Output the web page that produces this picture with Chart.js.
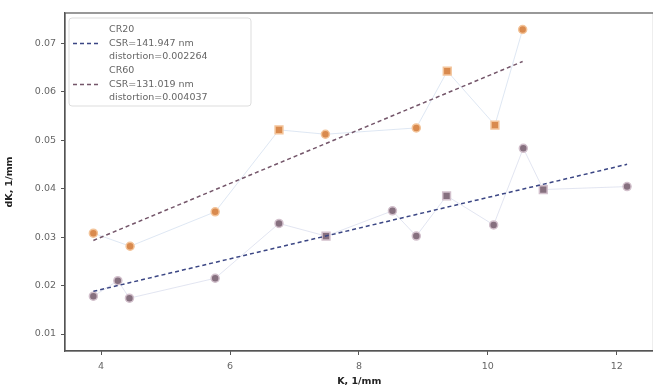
<!DOCTYPE html>
<html>
<head>
<meta charset="utf-8">
<script src="https://cdn.jsdelivr.net/npm/chart.js@4/dist/chart.umd.min.js"></script>
<style>
    html, body { margin: 0; padding: 0; background: #fff; overflow: hidden; }
    #wrap { width: 659px; height: 387px; }
</style>
</head>
<body>
<div id="wrap"><canvas id="distChart"></canvas></div>
<script>
// measured points (orange group)
const orangeK = [3.88, 4.45, 5.77, 6.76, 7.48, 8.89, 9.37, 10.11, 10.54];
const orangeDK = [0.0308, 0.0281, 0.0352, 0.0521, 0.0512, 0.0525, 0.0642, 0.0531, 0.0728];
const orangeStyle = ['circle', 'circle', 'circle', 'rect', 'circle', 'circle', 'rect', 'rect', 'circle'];

// measured points (purple group)
const purpleK = [3.88, 4.26, 4.44, 5.77, 6.76, 7.49, 8.52, 8.89, 9.36, 10.09, 10.55, 10.86, 12.16];
const purpleDK = [0.0178, 0.0210, 0.0174, 0.0215, 0.0328, 0.0302, 0.0354, 0.0302, 0.0385, 0.0325, 0.0483, 0.0398, 0.0404];
const purpleStyle = ['circle', 'circle', 'circle', 'circle', 'circle', 'rect', 'circle', 'circle', 'rect', 'circle', 'circle', 'rect', 'circle'];

// fitted lines (end points)
const fitCR20K = [3.88, 12.16];
const fitCR20DK = [0.0188, 0.0450];
const fitCR60K = [3.88, 10.54];
const fitCR60DK = [0.0293, 0.0662];

const legendLines = [
    ['CR20', 'CSR=141.947 nm', 'distortion=0.002264'],
    ['CR60', 'CSR=131.019 nm', 'distortion=0.004037']
];

const xTicks = [4, 6, 8, 10, 12];
const yTicks = [0.01, 0.02, 0.03, 0.04, 0.05, 0.06, 0.07];

const toXY = (xs, ys) => xs.map((x, i) => ({ x: x, y: ys[i] }));
const sizes = styles => styles.map(s => s === 'rect' ? 5.5 : 4);

const COL_CR20 = '#3b4684';
const COL_CR60 = '#74566a';
const AXIS_COL = '#555555';
const TEXT_COL = '#666666';

// frame around the plot area + text legend in the upper left
const framePlugin = {
    id: 'frame',
    afterDatasetsDraw(chart) {
        const { ctx, chartArea: a } = chart;
        ctx.save();
        ctx.strokeStyle = AXIS_COL;
        ctx.lineWidth = 1.2;
        ctx.strokeRect(a.left, a.top, a.right - a.left, a.bottom - a.top);

        // legend box
        const bx = a.left + 4, by = a.top + 5, bw = 182, bh = 88;
        ctx.fillStyle = 'rgba(255,255,255,0.85)';
        ctx.strokeStyle = '#dddddd';
        ctx.lineWidth = 1;
        ctx.beginPath();
        ctx.roundRect(bx, by, bw, bh, 3);
        ctx.fill();
        ctx.stroke();

        const colors = [COL_CR20, COL_CR60];
        ctx.font = '9.5px "DejaVu Sans"';
        ctx.textBaseline = 'middle';
        legendLines.forEach((lines, i) => {
            const y0 = by + 12 + i * 41;
            ctx.strokeStyle = colors[i];
            ctx.lineWidth = 1.5;
            ctx.setLineDash([4, 3]);
            ctx.beginPath();
            ctx.moveTo(bx + 4, y0 + 13.5);
            ctx.lineTo(bx + 32, y0 + 13.5);
            ctx.stroke();
            ctx.setLineDash([]);
            ctx.fillStyle = TEXT_COL;
            lines.forEach((t, j) => ctx.fillText(t, bx + 40, y0 + j * 13.5));
        });
        ctx.restore();
    }
};

function initDistChart() {
    const ctx = document.getElementById('distChart').getContext('2d');
    new Chart(ctx, {
        type: 'scatter',
        data: {
            datasets: [
                {
                    label: 'CR60 fit',
                    type: 'line',
                    data: toXY(fitCR60K, fitCR60DK),
                    borderColor: COL_CR60,
                    borderWidth: 1.5,
                    borderDash: [4, 3],
                    pointRadius: 0,
                    fill: false
                },
                {
                    label: 'CR20 fit',
                    type: 'line',
                    data: toXY(fitCR20K, fitCR20DK),
                    borderColor: COL_CR20,
                    borderWidth: 1.5,
                    borderDash: [4, 3],
                    pointRadius: 0,
                    fill: false
                },
                {
                    label: 'orange',
                    data: toXY(orangeK, orangeDK),
                    showLine: true,
                    borderColor: 'rgba(160,185,220,0.35)',
                    borderWidth: 1,
                    pointStyle: orangeStyle,
                    pointRadius: sizes(orangeStyle),
                    pointBackgroundColor: '#d98a4e',
                    pointBorderColor: '#f3c49a',
                    pointBorderWidth: 1.5
                },
                {
                    label: 'purple',
                    data: toXY(purpleK, purpleDK),
                    showLine: true,
                    borderColor: 'rgba(160,170,210,0.3)',
                    borderWidth: 1,
                    pointStyle: purpleStyle,
                    pointRadius: sizes(purpleStyle),
                    pointBackgroundColor: '#86707f',
                    pointBorderColor: '#d2c0cc',
                    pointBorderWidth: 1.5
                }
            ]
        },
        options: {
            responsive: true,
            maintainAspectRatio: false,
            animation: false,
            layout: { padding: { top: 13, right: 0, left: 0, bottom: 0 } },
            plugins: {
                legend: { display: false },
                tooltip: { enabled: false }
            },
            scales: {
                x: {
                    type: 'linear',
                    min: 3.44,
                    max: 12.57,
                    afterFit: s => { s.height = 36; },
                    afterBuildTicks: s => { s.ticks = xTicks.map(v => ({ value: v })); },
                    grid: { drawOnChartArea: false, drawTicks: true, tickLength: 4, color: AXIS_COL },
                    border: { color: AXIS_COL, width: 1.2 },
                    ticks: { color: TEXT_COL, font: { size: 9.5, family: 'DejaVu Sans' }, padding: 6 },
                    title: {
                        display: true,
                        text: 'K, 1/mm',
                        color: '#222',
                        font: { size: 9.5, weight: 'bold', family: 'DejaVu Sans' },
                        padding: { top: 0, bottom: 0 }
                    }
                },
                y: {
                    min: 0.0065,
                    max: 0.0762,
                    afterFit: s => { s.width = 65; },
                    afterBuildTicks: s => { s.ticks = yTicks.map(v => ({ value: v })); },
                    grid: { drawOnChartArea: false, drawTicks: true, tickLength: 4, color: AXIS_COL },
                    border: { color: AXIS_COL, width: 1.2 },
                    ticks: {
                        color: TEXT_COL,
                        font: { size: 9.5, family: 'DejaVu Sans' },
                        padding: 5,
                        callback: v => v.toFixed(2)
                    },
                    title: {
                        display: true,
                        text: 'dK, 1/mm',
                        color: '#222',
                        font: { size: 9.5, weight: 'bold', family: 'DejaVu Sans' },
                        padding: { top: 4, bottom: 4 }
                    }
                }
            }
        },
        plugins: [framePlugin]
    });
}

document.addEventListener('DOMContentLoaded', initDistChart);
</script>
</body>
</html>
